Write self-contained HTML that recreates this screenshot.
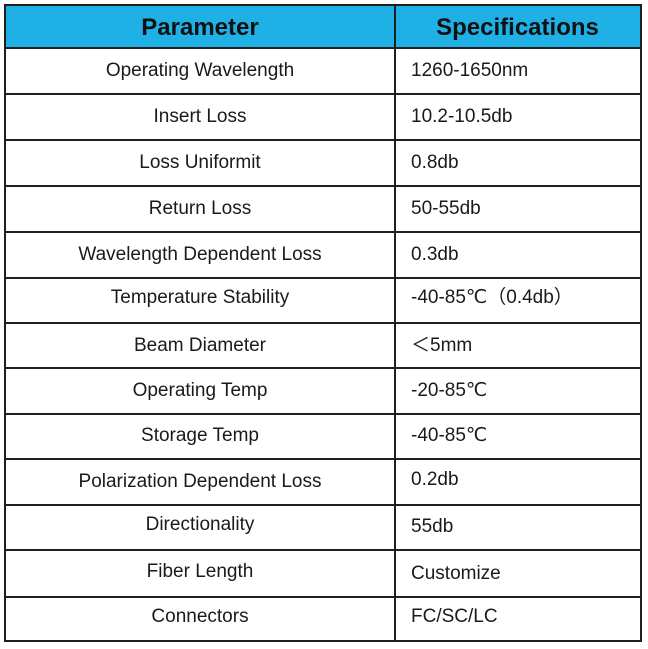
<!DOCTYPE html>
<html><head><style>
body{margin:0;width:648px;height:649px;background:#fff;position:relative;font-family:"Liberation Sans","DejaVu Sans","Noto Sans CJK SC",sans-serif;color:#1a1a1a;overflow:hidden}
.h{position:absolute;background:#1f1f1f}
.t{position:absolute;font-size:19px;line-height:20px;white-space:nowrap}
.l{width:390px;left:5px;text-align:center}
.r{left:411px}
.hd{font-size:24px;font-weight:bold;color:#111}
</style></head><body>
<div style="position:absolute;left:5px;top:5px;width:636px;height:43px;background:#1fb0e6"></div>
<div class="h" style="left:4px;top:4px;width:2px;height:638px"></div>
<div class="h" style="left:640px;top:4px;width:2px;height:638px"></div>
<div class="h" style="left:394px;top:4px;width:2px;height:638px"></div>
<div class="h" style="left:4px;top:4px;width:638px;height:2px"></div>
<div class="h" style="left:4px;top:47px;width:638px;height:2px"></div>
<div class="h" style="left:4px;top:93px;width:638px;height:2px"></div>
<div class="h" style="left:4px;top:139px;width:638px;height:2px"></div>
<div class="h" style="left:4px;top:185px;width:638px;height:2px"></div>
<div class="h" style="left:4px;top:231px;width:638px;height:2px"></div>
<div class="h" style="left:4px;top:277px;width:638px;height:2px"></div>
<div class="h" style="left:4px;top:322px;width:638px;height:2px"></div>
<div class="h" style="left:4px;top:367px;width:638px;height:2px"></div>
<div class="h" style="left:4px;top:413px;width:638px;height:2px"></div>
<div class="h" style="left:4px;top:458px;width:638px;height:2px"></div>
<div class="h" style="left:4px;top:504px;width:638px;height:2px"></div>
<div class="h" style="left:4px;top:549px;width:638px;height:2px"></div>
<div class="h" style="left:4px;top:596px;width:638px;height:2px"></div>
<div class="h" style="left:4px;top:640px;width:638px;height:2px"></div>

<div class="t l hd" style="top:18px">Parameter</div>
<div class="t hd" style="left:395px;width:245px;text-align:center;top:18px">Specifications</div>

<div class="t l" style="top:61px">Operating Wavelength</div><div class="t r" style="top:61px">1260-1650nm</div>
<div class="t l" style="top:107px">Insert Loss</div><div class="t r" style="top:107px">10.2-10.5db</div>
<div class="t l" style="top:153px">Loss Uniformit</div><div class="t r" style="top:153px">0.8db</div>
<div class="t l" style="top:199px">Return Loss</div><div class="t r" style="top:199px">50-55db</div>
<div class="t l" style="top:245px">Wavelength Dependent Loss</div><div class="t r" style="top:245px">0.3db</div>
<div class="t l" style="top:288px">Temperature Stability</div><div class="t r" style="top:288px">-40-85℃（0.4db）</div>
<div class="t l" style="top:336px">Beam Diameter</div><div class="t r" style="top:336px">＜5mm</div>
<div class="t l" style="top:381px">Operating Temp</div><div class="t r" style="top:381px">-20-85℃</div>
<div class="t l" style="top:426px">Storage Temp</div><div class="t r" style="top:426px">-40-85℃</div>
<div class="t l" style="top:472px">Polarization Dependent Loss</div><div class="t r" style="top:470px">0.2db</div>
<div class="t l" style="top:515px">Directionality</div><div class="t r" style="top:517px">55db</div>
<div class="t l" style="top:562px">Fiber Length</div><div class="t r" style="top:564px">Customize</div>
<div class="t l" style="top:607px">Connectors</div><div class="t r" style="top:607px">FC/SC/LC</div>
</body></html>
